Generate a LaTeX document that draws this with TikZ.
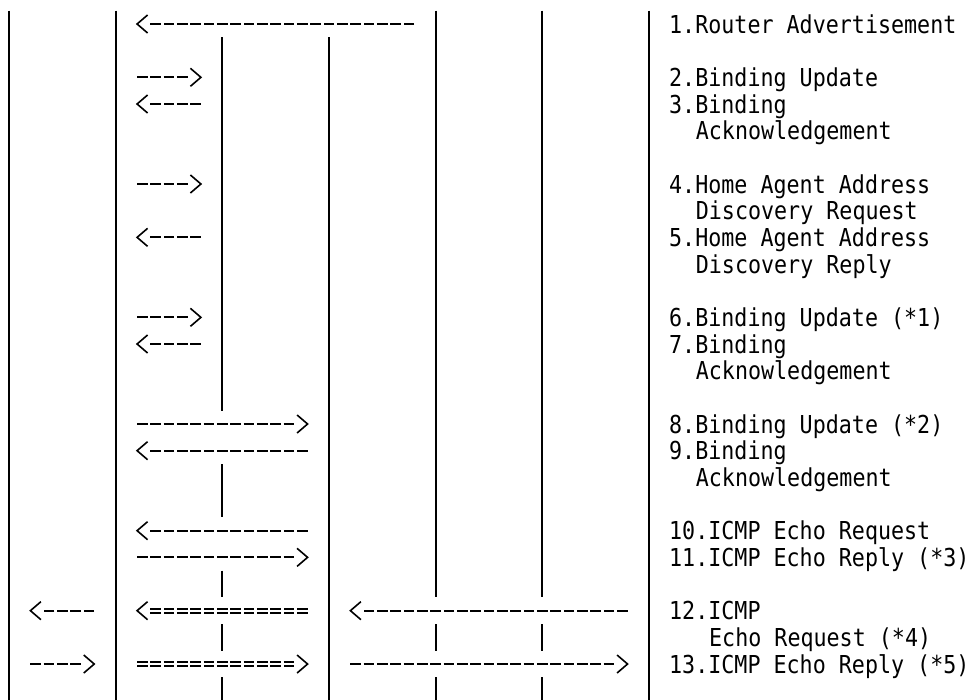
\documentclass[tikz,border=0pt]{standalone}
\usepackage{fontspec}
\newfontfamily\asciifont[FakeStretch=0.878]{DejaVu Sans Mono}
\usetikzlibrary{calc}

% grid of the character cells (in px)
\newcommand{\cx}[1]{9+13.333*(#1)}
\newcommand{\ry}[1]{24+26.667*(#1)}

\begin{document}
\begin{tikzpicture}[
  x=1pt, y=-1pt,
  lifeline/.style={line width=1.8pt},
  msg/.style={line width=1.8pt, dash pattern=on 10.5pt off 2.833pt},
  dbl/.style={line width=1.7pt, double, double distance=2.3pt, dash pattern=on 10.5pt off 2.833pt},
  chev/.style={line width=1.6pt, line join=miter},
  lbl/.style={anchor=base west, inner sep=0pt, font=\asciifont\fontsize{24.7}{26.67}\selectfont}
]
  \useasboundingbox (0,0) rectangle (973,699);
  \clip (0,0) rectangle (973,699);

  % lifelines
  \foreach \col/\ra/\rb in {0/0/25, 8/0/25, 16/1/14, 16/17/18, 16/21/21, 16/23/23, 16/25/25,
      24/1/25, 32/0/21, 32/23/23, 32/25/25, 40/0/21, 40/23/23, 40/25/25, 48/0/25}
    \draw[lifeline] ({\cx{\col}},{\ry{\ra}-13.333}) -- ({\cx{\col}},{\ry{\rb}+13.333});

  % messages: name/row/head col/tail col/style
  \foreach \nm/\rw/\hc/\tc/\sty in {ra/0/10/30/msg, bu1/2/14/10/msg, ba1/3/10/14/msg,
      hq/6/14/10/msg, hr/8/10/14/msg, bu2/11/14/10/msg, ba2/12/10/14/msg,
      bu3/15/22/10/msg, ba3/16/10/22/msg, erq/19/10/22/msg, erp/20/22/10/msg,
      eqa/22/2/6/msg, eqb/22/10/22/dbl, eqc/22/26/46/msg,
      epa/24/6/2/msg, epb/24/22/10/dbl, epc/24/46/26/msg}{
    \pgfmathsetmacro\dir{sign(\hc-\tc)}
    \pgfmathsetmacro\yy{\ry{\rw}}
    \pgfmathsetmacro\xt{\cx{\tc}-5.25*(\dir)}
    \pgfmathsetmacro\xh{\cx{\hc-(\dir)}+5.25*(\dir)}
    \pgfmathsetmacro\xp{\cx{\hc}+5.25*(\dir)}
    \pgfmathsetmacro\xb{\xp-10.5*(\dir)}
    \coordinate (\nm-t) at (\xt,\yy);
    \coordinate (\nm-h) at (\xh,\yy);
    \coordinate (\nm-p) at (\xp,\yy);
    \draw[\sty] (\nm-t) -- (\nm-h);
    \draw[chev] ({\xb},{\yy-9}) -- (\nm-p) -- ({\xb},{\yy+9});
  }

  % message texts
  \foreach \col/\rw/\txt in {50/0/{1.Router Advertisement}, 50/2/{2.Binding Update},
      50/3/{3.Binding}, 52/4/{Acknowledgement},
      50/6/{4.Home Agent Address}, 52/7/{Discovery Request},
      50/8/{5.Home Agent Address}, 52/9/{Discovery Reply},
      50/11/{6.Binding Update (*1)}, 50/12/{7.Binding}, 52/13/{Acknowledgement},
      50/15/{8.Binding Update (*2)}, 50/16/{9.Binding}, 52/17/{Acknowledgement},
      50/19/{10.ICMP Echo Request}, 50/20/{11.ICMP Echo Reply (*3)},
      50/22/{12.ICMP}, 53/23/{Echo Request (*4)}, 50/24/{13.ICMP Echo Reply (*5)}}
    \node[lbl] (lbl\rw) at ({\cx{\col}-6.667},{\ry{\rw}+9}) {\txt};
\end{tikzpicture}
\end{document}
